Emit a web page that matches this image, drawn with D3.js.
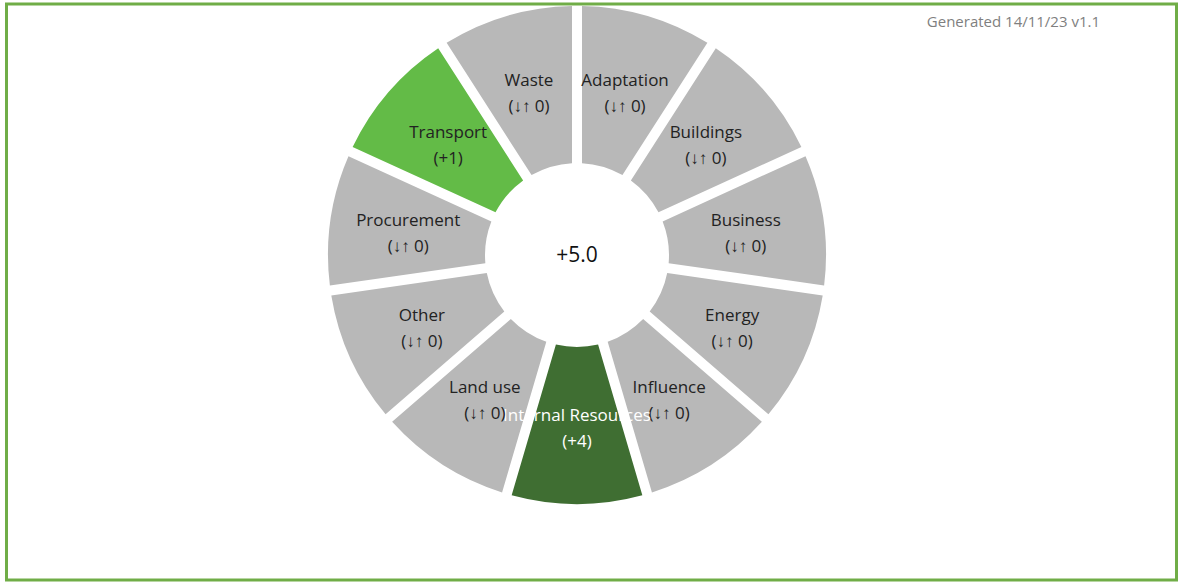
<!DOCTYPE html>
<html><head><meta charset="utf-8">
<script src="https://cdn.jsdelivr.net/npm/d3@7"></script>
<style>body{margin:0;background:#fff;} svg{display:block;font-family:"Open Sans",sans-serif;}</style>
</head><body>
<svg id="chart" width="1180" height="583"></svg>
<script>
const categories = ["Adaptation","Buildings","Business","Energy","Influence","Internal Resources","Land use","Other","Procurement","Transport","Waste"];
const changeLabels = ["(↓↑ 0)","(↓↑ 0)","(↓↑ 0)","(↓↑ 0)","(↓↑ 0)","(+4)","(↓↑ 0)","(↓↑ 0)","(↓↑ 0)","(+1)","(↓↑ 0)"];
const changes = [0,0,0,0,0,4,0,0,0,1,0];
const totalLabel = "+5.0";
const footer = "Generated 14/11/23 v1.1";

const svg = d3.select("#chart");
svg.append("rect").attr("x",6.5).attr("y",4).attr("width",1170).attr("height",576)
  .attr("fill","none").attr("stroke","#70ad47").attr("stroke-width",3);

const cx = 577, cy = 255, outerR = 249, innerR = 92;
const g = svg.append("g").attr("transform",`translate(${cx},${cy})`);
const pie = d3.pie().value(() => 1).sort(null);
const arcs = pie(categories.map((c,i)=>({name:c, label:changeLabels[i], v:changes[i]})));
const arc = d3.arc().innerRadius(innerR).outerRadius(outerR).padAngle(0.1).padRadius(100);
const color = d => d.v >= 3 ? "#3f6e32" : d.v > 0 ? "#63bb47" : "#b8b8b8";

g.selectAll("path.seg").data(arcs).join("path").attr("class","seg")
  .attr("d",arc).attr("fill",d=>color(d.data));

const lab = d3.arc().innerRadius(innerR).outerRadius(outerR);
const t = g.selectAll("text.lbl").data(arcs).join("text").attr("class","lbl")
  .attr("transform",d=>`translate(${lab.centroid(d)})`)
  .attr("text-anchor","middle").attr("font-size",17)
  .attr("fill",d=>d.data.v>=3?"#ffffff":"#222");
t.append("tspan").attr("x",0).attr("y",-5).text(d=>d.data.name);
t.append("tspan").attr("x",0).attr("y",21).text(d=>d.data.label);

g.append("text").attr("text-anchor","middle").attr("y",7).attr("font-size",21).attr("fill","#111").text(totalLabel);

svg.append("text").attr("x",1100).attr("y",27).attr("text-anchor","end").attr("font-size",15)
  .attr("fill","#7f7f7f").text(footer);
</script>
</body></html>
